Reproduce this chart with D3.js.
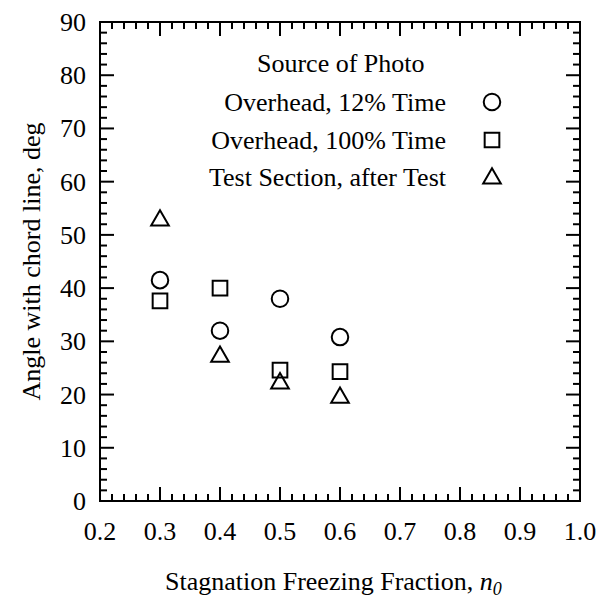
<!DOCTYPE html>
<html>
<head>
<meta charset="utf-8">
<script src="https://cdn.jsdelivr.net/npm/d3@7"></script>
<style>
  body { margin: 0; background: #fff; }
</style>
</head>
<body>
<svg width="600" height="601"></svg>
<script>
// data
const freezeFraction = [0.3, 0.4, 0.5, 0.6];
const overhead12 = [41.5, 32.0, 38.0, 30.8];
const overhead100 = [37.6, 40.0, 24.6, 24.3];
const testSection = [53.0, 27.4, 22.4, 19.7];
const seriesNames = ["Overhead, 12% Time", "Overhead, 100% Time", "Test Section, after Test"];
const xTicks = [0.2, 0.3, 0.4, 0.5, 0.6, 0.7, 0.8, 0.9, 1.0];
const yTicks = [0, 10, 20, 30, 40, 50, 60, 70, 80, 90];

const FONT = "'Liberation Serif', 'Times New Roman', Times, serif";
const FS = 26;

const svg = d3.select("svg");
const m = {left: 100, right: 20, top: 22, bottom: 100};
const W = 600 - m.left - m.right, H = 601 - m.top - m.bottom;

const x = d3.scaleLinear().domain([0.2, 1.0]).range([m.left, m.left + W]);
const y = d3.scaleLinear().domain([0, 90]).range([m.top + H, m.top]);

const g = svg.append("g").attr("font-family", FONT).attr("fill", "#000");

// frame
g.append("rect")
  .attr("x", m.left).attr("y", m.top).attr("width", W).attr("height", H)
  .attr("fill", "none").attr("stroke", "#000").attr("stroke-width", 2);

const xMinor = d3.range(0.2, 1.0001, 0.02);
const yMinor = d3.range(0, 90.001, 2);
const ticks = g.append("g").attr("stroke", "#000").attr("stroke-width", 2);

function isMajor(v, step) { return Math.abs(v / step - Math.round(v / step)) < 1e-6; }

xMinor.forEach(v => {
  const len = isMajor(v, 0.1) ? 14 : 7;
  ticks.append("line").attr("x1", x(v)).attr("x2", x(v))
    .attr("y1", m.top + H).attr("y2", m.top + H - len);
  ticks.append("line").attr("x1", x(v)).attr("x2", x(v))
    .attr("y1", m.top).attr("y2", m.top + len);
});
yMinor.forEach(v => {
  const len = isMajor(v, 10) ? 14 : 7;
  ticks.append("line").attr("y1", y(v)).attr("y2", y(v))
    .attr("x1", m.left).attr("x2", m.left + len);
  ticks.append("line").attr("y1", y(v)).attr("y2", y(v))
    .attr("x1", m.left + W).attr("x2", m.left + W - len);
});

// tick labels
g.selectAll(".xl").data(xTicks).enter().append("text")
  .attr("x", d => x(d)).attr("y", m.top + H + 39)
  .attr("text-anchor", "middle").attr("font-size", FS)
  .text(d => d.toFixed(1));
g.selectAll(".yl").data(yTicks).enter().append("text")
  .attr("x", m.left - 14).attr("y", d => y(d) + 9)
  .attr("text-anchor", "end").attr("font-size", FS)
  .text(d => d);

// axis titles
const xt = g.append("text").attr("x", 165).attr("y", 590)
  .attr("font-size", FS);
xt.append("tspan").text("Stagnation Freezing Fraction, ");
xt.append("tspan").attr("font-style", "italic").text("n");
xt.append("tspan").attr("font-style", "italic").attr("font-size", 18).attr("dy", 5).text("0");

g.append("text")
  .attr("transform", `translate(40,${m.top + H / 2}) rotate(-90)`)
  .attr("text-anchor", "middle").attr("font-size", FS)
  .text("Angle with chord line, deg");

// markers
const circleSym = d3.symbol().type(d3.symbolCircle).size(215);
const squareSym = d3.symbol().type(d3.symbolSquare).size(215);
const triSym = d3.symbol().type(d3.symbolTriangle).size(135);
const series = [
  {vals: overhead12, sym: circleSym, dy: 0},
  {vals: overhead100, sym: squareSym, dy: 0},
  {vals: testSection, sym: triSym, dy: 1.5}
];

series.forEach(s => {
  g.append("g").selectAll("path").data(s.vals).enter().append("path")
    .attr("d", s.sym)
    .attr("transform", (d, i) => `translate(${x(freezeFraction[i])},${y(d) + s.dy})`)
    .attr("fill", "none").attr("stroke", "#000").attr("stroke-width", 2);
});

// legend
const lg = g.append("g");
lg.append("text").attr("x", 257).attr("y", 72).attr("font-size", FS).text("Source of Photo");
const rowY = [102, 140, 177];
series.forEach((s, i) => {
  lg.append("text").attr("x", 446).attr("y", rowY[i] + 9)
    .attr("text-anchor", "end").attr("font-size", FS).text(seriesNames[i]);
  lg.append("path").attr("d", s.sym)
    .attr("transform", `translate(492,${rowY[i] + s.dy})`)
    .attr("fill", "none").attr("stroke", "#000").attr("stroke-width", 2);
});
</script>
</body>
</html>
